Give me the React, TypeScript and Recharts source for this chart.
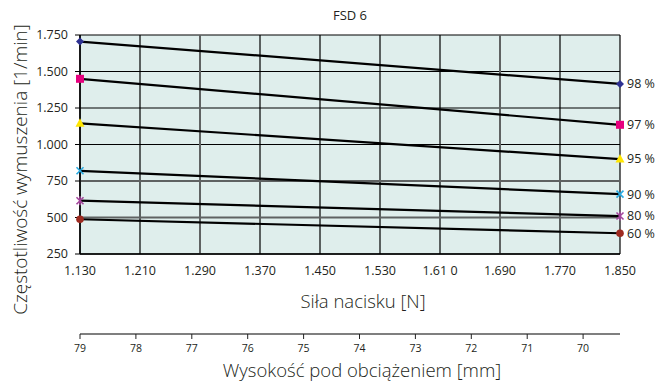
import React from 'react';
import { LineChart, Line, XAxis, YAxis, CartesianGrid, ReferenceLine, LabelList, Label } from 'recharts';

const force = [1130, 1850];
const heightAtForce = [79, 69.34];
const seriesNames = ['98 %', '97 %', '95 %', '90 %', '80 %', '60 %'];
const freq98 = [1705, 1415];
const freq97 = [1450, 1135];
const freq95 = [1145, 900];
const freq90 = [820, 660];
const freq80 = [615, 510];
const freq60 = [488, 392];

const forceTicks = [1130, 1210, 1290, 1370, 1450, 1530, 1610, 1690, 1770, 1850];
const forceTickLabels = ['1.130', '1.210', '1.290', '1.370', '1.450', '1.530', '1.61 0', '1.690', '1.770', '1.850'];
const freqTicks = [250, 500, 750, 1000, 1250, 1500, 1750];
const freqTickLabels = ['250', '500', '750', '1.000', '1.250', '1.500', '1.750'];
const heightTicks = [79, 78, 77, 76, 75, 74, 73, 72, 71, 70];

const FONT = '"Open Sans", sans-serif';
const TEXT = '#231f20';

const data = force.map((f, i) => ({
  force: f,
  height: heightAtForce[i],
  s98: freq98[i],
  s97: freq97[i],
  s95: freq95[i],
  s90: freq90[i],
  s80: freq80[i],
  s60: freq60[i],
}));

type Shape = 'diamond' | 'square' | 'triangle' | 'cross' | 'star' | 'circle';

const marker = (shape: Shape, color: string) => (props: any) => {
  const { cx, cy, index } = props;
  const k = `${shape}-${index}`;
  if (cx == null || cy == null) return <g key={k} />;
  switch (shape) {
    case 'diamond':
      return <path key={k} d={`M${cx},${cy - 4}L${cx + 4},${cy}L${cx},${cy + 4}L${cx - 4},${cy}Z`} fill={color} />;
    case 'square':
      return <rect key={k} x={cx - 4} y={cy - 4} width={8} height={8} fill={color} />;
    case 'triangle':
      return <path key={k} d={`M${cx},${cy - 5}L${cx + 4.5},${cy + 3.5}L${cx - 4.5},${cy + 3.5}Z`} fill={color} />;
    case 'cross':
      return (
        <path key={k} d={`M${cx - 3.5},${cy - 3.5}L${cx + 3.5},${cy + 3.5}M${cx + 3.5},${cy - 3.5}L${cx - 3.5},${cy + 3.5}`} stroke={color} strokeWidth={1.6} />
      );
    case 'star':
      return (
        <path
          key={k}
          d={`M${cx - 3.5},${cy - 3.5}L${cx + 3.5},${cy + 3.5}M${cx + 3.5},${cy - 3.5}L${cx - 3.5},${cy + 3.5}M${cx},${cy - 4.5}L${cx},${cy + 4.5}`}
          stroke={color}
          strokeWidth={1.6}
        />
      );
    default:
      return <circle key={k} cx={cx} cy={cy} r={3.8} fill={color} />;
  }
};

// only the right-hand end of each line gets its percentage
const endLabel = (text: string) => (props: any) => {
  const { x, y, index } = props;
  if (index !== force.length - 1) return null;
  return (
    <text x={x + 7} y={y} dy="0.35em" fontSize={12.5} fontFamily={FONT} fill={TEXT}>
      {text}
    </text>
  );
};

const series: { key: string; color: string; shape: Shape }[] = [
  { key: 's98', color: '#2e3192', shape: 'diamond' },
  { key: 's97', color: '#e6007e', shape: 'square' },
  { key: 's95', color: '#ffe600', shape: 'triangle' },
  { key: 's90', color: '#29abe2', shape: 'cross' },
  { key: 's80', color: '#a3449c', shape: 'star' },
  { key: 's60', color: '#9e2a20', shape: 'circle' },
];

const axisTitle = (text: string, dx: number, dy: number) => (props: any) => {
  const vb = props.viewBox || {};
  return (
    <text
      x={vb.x + vb.width / 2 + dx}
      y={vb.y + dy}
      textAnchor="middle"
      dominantBaseline="central"
      fontSize={18.5}
      fontWeight={300}
      fontFamily={FONT}
      fill={TEXT}
    >
      {text}
    </text>
  );
};

const yTitle = (props: any) => {
  const vb = props.viewBox || {};
  const x = vb.x + 20;
  const y = vb.y + vb.height / 2 + 25;
  return (
    <text
      x={x}
      y={y}
      transform={`rotate(-90 ${x} ${y})`}
      textAnchor="middle"
      dominantBaseline="central"
      fontSize={19}
      fontWeight={300}
      fontFamily={FONT}
      fill={TEXT}
    >
      Częstotliwość wymuszenia [1/min]
    </text>
  );
};

export default function App() {
  return (
    <div style={{ position: 'absolute', left: 0, top: 0, width: 656, height: 381, background: '#fff' }}>
      <div
        style={{
          position: 'absolute',
          left: 300,
          width: 100,
          top: 6,
          textAlign: 'center',
          fontFamily: FONT,
          fontSize: 13,
          color: TEXT,
        }}
      >
        FSD 6
      </div>
      <LineChart width={656} height={381} data={data} margin={{ top: 35, right: 36, left: 0, bottom: 0 }}>
        <CartesianGrid
          xAxisId="f"
          stroke="#000"
          strokeWidth={1.2}
          fill="#dfeeec"
          verticalValues={forceTicks}
          horizontalValues={freqTicks}
        />
        <ReferenceLine xAxisId="f" x={1290} stroke="#5f6262" strokeWidth={2} />
        <ReferenceLine xAxisId="f" x={1690} stroke="#5f6262" strokeWidth={2} />
        <ReferenceLine xAxisId="f" y={750} stroke="#5f6262" strokeWidth={2} />
        <ReferenceLine xAxisId="f" y={500} stroke="#5f6262" strokeWidth={2} />
        <XAxis
          xAxisId="f"
          dataKey="force"
          type="number"
          domain={[1130, 1850]}
          ticks={forceTicks}
          interval={0}
          tickFormatter={(v: number) => forceTickLabels[forceTicks.indexOf(v)]}
          tickLine={false}
          tickSize={6}
          tickMargin={6}
          axisLine={{ stroke: '#000', strokeWidth: 1.5 }}
          tick={{ fontSize: 12.5, fontFamily: FONT, fill: TEXT }}
          height={80}
        >
          <Label content={axisTitle('Siła nacisku [N]', 13, 46)} />
        </XAxis>
        <XAxis
          xAxisId="h"
          dataKey="height"
          type="number"
          domain={[69.34, 79]}
          reversed
          allowDataOverflow
          ticks={heightTicks}
          interval={0}
          tickSize={5}
          tickMargin={6}
          axisLine={{ stroke: '#555', strokeWidth: 1.5 }}
          tickLine={{ stroke: '#222' }}
          tick={{ fontSize: 10.5, fontFamily: FONT, fill: TEXT }}
          height={47}
        >
          <Label content={axisTitle('Wysokość pod obciążeniem [mm]', 12, 35)} />
        </XAxis>
        <YAxis
          type="number"
          domain={[250, 1750]}
          ticks={freqTicks}
          interval={0}
          tickFormatter={(v: number) => freqTickLabels[freqTicks.indexOf(v)]}
          width={80}
          tickSize={5}
          tickMargin={7}
          tickLine={{ stroke: '#000' }}
          axisLine={{ stroke: '#000', strokeWidth: 1.5 }}
          tick={{ fontSize: 12.5, fontFamily: FONT, fill: TEXT }}
        >
          <Label content={yTitle} />
        </YAxis>
        {series.map((s, i) => (
          <Line
            key={s.key}
            xAxisId="f"
            dataKey={s.key}
            type="linear"
            stroke="#000"
            strokeWidth={2.2}
            dot={marker(s.shape, s.color)}
            activeDot={false}
            isAnimationActive={false}
          >
            <LabelList dataKey={s.key} content={endLabel(seriesNames[i])} />
          </Line>
        ))}
      </LineChart>
    </div>
  );
}
